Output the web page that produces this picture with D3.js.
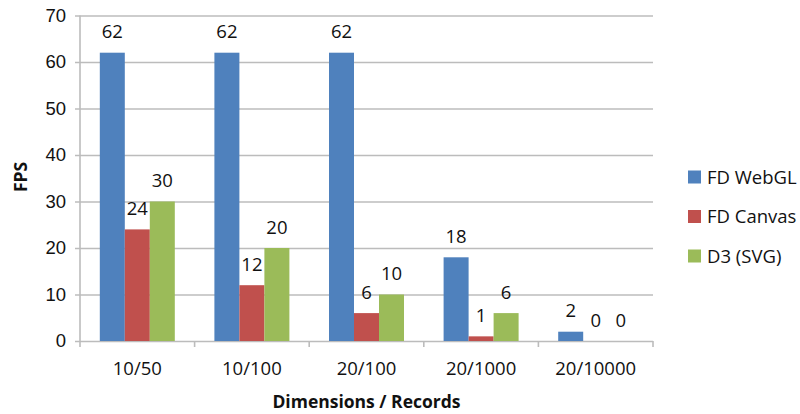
<!DOCTYPE html>
<html>
<head>
<meta charset="utf-8">
<script src="https://cdn.jsdelivr.net/npm/d3@7"></script>
<style>
  body { margin: 0; background: #fff; }
  svg { display: block; font-family: "Open Sans", sans-serif; }
</style>
</head>
<body>
<div id="chart"></div>
<script>
// Dados do gráfico
const categories = ['10/50', '10/100', '20/100', '20/1000', '20/10000'];
const seriesNames = ['FD WebGL', 'FD Canvas', 'D3 (SVG)'];
const webgl = [62, 62, 62, 18, 2];
const canvas = [24, 12, 6, 1, 0];
const svgD3 = [30, 20, 10, 6, 0];
const yTicks = [0, 10, 20, 30, 40, 50, 60, 70];

const colors = ['#4f81bd', '#c0504d', '#9bbb59'];
const seriesValues = [webgl, canvas, svgD3];

const width = 800, height = 414;
const plot = { left: 80, right: 653, top: 15.5, bottom: 341 };
const fontSize = '18.5px';

const svg = d3.select('#chart')
  .append('svg')
  .attr('width', width)
  .attr('height', height);

// Escalas
const x0 = d3.scaleBand()
  .domain(categories)
  .range([plot.left, plot.right])
  .padding(0);

const groupPad = (x0.bandwidth() - 75) / 2;
const x1 = d3.scaleBand()
  .domain(seriesNames)
  .range([groupPad, x0.bandwidth() - groupPad]);

const y = d3.scaleLinear()
  .domain([0, 70])
  .range([plot.bottom, plot.top]);

// Linhas de grade + eixo Y
const yAxis = svg.append('g')
  .attr('transform', `translate(${plot.left},0)`)
  .call(d3.axisLeft(y).tickValues(yTicks).tickSize(-(plot.right - plot.left)).tickPadding(14).tickSizeOuter(0));
yAxis.select('.domain').remove();
yAxis.selectAll('.tick line')
  .attr('x1', -5)
  .attr('stroke', '#bcbcbc')
  .attr('stroke-width', 1.6);
yAxis.selectAll('.tick text')
  .attr('fill', '#111')
  .style('font-size', fontSize);

// Linha vertical do eixo
svg.append('line')
  .attr('x1', plot.left).attr('x2', plot.left)
  .attr('y1', plot.top).attr('y2', plot.bottom + 6)
  .attr('stroke', '#bcbcbc')
  .attr('stroke-width', 1.6);

// Eixo X (ticks nas fronteiras das categorias)
const boundaries = categories.map(c => x0(c)).concat([plot.right]);
svg.append('g')
  .selectAll('line')
  .data(boundaries.slice(1))
  .enter()
  .append('line')
  .attr('x1', d => d).attr('x2', d => d)
  .attr('y1', plot.bottom).attr('y2', plot.bottom + 6)
  .attr('stroke', '#bcbcbc')
  .attr('stroke-width', 1.6);

svg.append('g')
  .selectAll('text')
  .data(categories)
  .enter()
  .append('text')
  .attr('x', d => x0(d) + x0.bandwidth() / 2)
  .attr('y', 374.5)
  .attr('text-anchor', 'middle')
  .attr('fill', '#111')
  .style('font-size', fontSize)
  .text(d => d);

// Barras
const groups = svg.append('g')
  .selectAll('g')
  .data(categories)
  .enter()
  .append('g')
  .attr('transform', d => `translate(${x0(d)},0)`);

groups.selectAll('rect')
  .data((c, i) => seriesNames.map((s, j) => ({ s, j, v: seriesValues[j][i] })))
  .enter()
  .append('rect')
  .attr('x', d => x1(d.s))
  .attr('width', x1.bandwidth())
  .attr('y', d => y(d.v))
  .attr('height', d => y(0) - y(d.v))
  .attr('fill', d => colors[d.j]);

// Rótulos de valores
groups.selectAll('text')
  .data((c, i) => seriesNames.map((s, j) => ({ s, j, v: seriesValues[j][i] })))
  .enter()
  .append('text')
  .attr('x', d => x1(d.s) + x1.bandwidth() / 2)
  .attr('y', d => y(d.v) - 14.5)
  .attr('text-anchor', 'middle')
  .attr('fill', '#111')
  .style('font-size', fontSize)
  .text(d => d.v);

// Títulos dos eixos
svg.append('text')
  .attr('transform', 'translate(27,177) rotate(-90)')
  .attr('text-anchor', 'middle')
  .attr('fill', '#111')
  .style('font-size', '17.5px')
  .style('font-weight', '700')
  .text('FPS');

svg.append('text')
  .attr('x', (plot.left + plot.right) / 2)
  .attr('y', 408)
  .attr('text-anchor', 'middle')
  .attr('fill', '#111')
  .style('font-size', '17.5px')
  .style('font-weight', '700')
  .text('Dimensions / Records');

// Legenda
const legend = svg.append('g')
  .attr('transform', 'translate(688,177)');

const items = legend.selectAll('g')
  .data(seriesNames)
  .enter()
  .append('g')
  .attr('transform', (d, i) => `translate(0,${i * 39.5})`);

items.append('rect')
  .attr('x', 0).attr('y', -6.5)
  .attr('width', 13).attr('height', 13)
  .attr('fill', (d, i) => colors[i]);

items.append('text')
  .attr('x', 19)
  .attr('y', 6.5)
  .attr('fill', '#111')
  .style('font-size', fontSize)
  .text(d => d);
</script>
</body>
</html>
